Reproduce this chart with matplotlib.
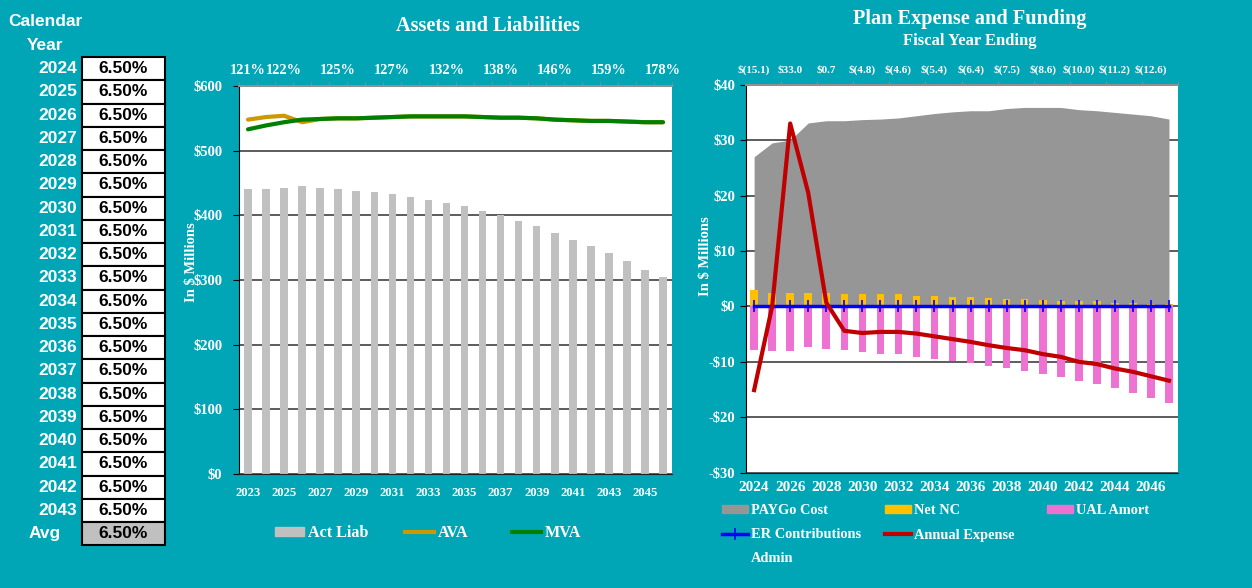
import matplotlib
matplotlib.use("Agg")
import matplotlib.pyplot as plt
from matplotlib.patches import Rectangle, Patch
from matplotlib.lines import Line2D
import numpy as np

# left table: assumed return by calendar year
table_years = [2024, 2025, 2026, 2027, 2028, 2029, 2030, 2031, 2032, 2033,
               2034, 2035, 2036, 2037, 2038, 2039, 2040, 2041, 2042, 2043]
table_rates = [6.50, 6.50, 6.50, 6.50, 6.50, 6.50, 6.50, 6.50, 6.50, 6.50,
               6.50, 6.50, 6.50, 6.50, 6.50, 6.50, 6.50, 6.50, 6.50, 6.50]
avg_rate = 6.50

# middle chart: assets and liabilities ($ millions)
al_years = [2023, 2024, 2025, 2026, 2027, 2028, 2029, 2030, 2031, 2032, 2033, 2034,
            2035, 2036, 2037, 2038, 2039, 2040, 2041, 2042, 2043, 2044, 2045, 2046]
act_liab = [440, 440, 443, 445, 443, 440, 438, 436, 433, 429, 424, 419,
            414, 407, 400, 392, 383, 373, 362, 352, 341, 330, 316, 304]
ava = [548, 552, 554, 544, 549, 550, 550, 551, 552, 553, 553, 553,
       553, 552, 551, 551, 550, 548, 547, 546, 546, 545, 544, 544]
mva = [533, 539, 544, 548, 549, 550, 550, 551, 552, 553, 553, 553,
       553, 552, 551, 551, 550, 548, 547, 546, 546, 545, 544, 544]
funded_years = [2023, 2025, 2028, 2031, 2034, 2037, 2040, 2043, 2046]
funded_pct = [121, 122, 125, 127, 132, 138, 146, 159, 178]

# right chart: plan expense and funding ($ millions)
pe_years = [2024, 2025, 2026, 2027, 2028, 2029, 2030, 2031, 2032, 2033, 2034, 2035,
            2036, 2037, 2038, 2039, 2040, 2041, 2042, 2043, 2044, 2045, 2046, 2047]
paygo = [27.0, 29.5, 30.0, 33.1, 33.5, 33.5, 33.7, 33.8, 34.0, 34.4, 34.8, 35.1,
         35.3, 35.3, 35.7, 35.9, 35.9, 35.9, 35.5, 35.3, 35.0, 34.7, 34.4, 33.8]
net_nc = [2.9, 2.5, 2.5, 2.5, 2.5, 2.3, 2.3, 2.2, 2.2, 1.9, 1.9, 1.7,
          1.7, 1.5, 1.3, 1.3, 1.1, 0.9, 0.9, 0.9, 0.7, 0.7, 0.5, 0.5]
ual_amort = [-7.9, -8.1, -8.1, -7.3, -7.7, -7.9, -8.3, -8.5, -8.6, -9.1, -9.5, -9.8,
             -10.2, -10.7, -11.1, -11.6, -12.2, -12.8, -13.4, -14.0, -14.8, -15.6, -16.5, -17.5]
er_contrib = [0, 0, 0, 0, 0, 0, 0, 0, 0, 0, 0, 0,
              0, 0, 0, 0, 0, 0, 0, 0, 0, 0, 0, 0]
annual_exp = [-15.1, 0.0, 33.0, 20.5, 0.7, -4.4, -4.8, -4.6, -4.6, -4.9, -5.4, -5.9,
              -6.4, -7.0, -7.5, -7.9, -8.6, -9.1, -10.0, -10.4, -11.2, -11.8, -12.6, -13.4]

TEAL = "#00A6B6"
SERIF = "Liberation Serif"
SANS = "Liberation Sans"
W, H = 1252, 588

fig = plt.figure(figsize=(W / 100, H / 100), dpi=100, facecolor=TEAL)

# full-figure axes in pixel units for the table and loose text
bg = fig.add_axes([0, 0, 1, 1])
bg.set_xlim(0, W)
bg.set_ylim(H, 0)
bg.axis("off")

tfont = dict(family=SANS, weight="bold", size=12.5)
bg.text(8, 22, "Calendar", color="white", ha="left", va="center", **tfont)
bg.text(45, 46, "Year", color="white", ha="center", va="center", **tfont)
row_h = 23.25
top = 57
for i, (yr, rate) in enumerate(zip(table_years, table_rates)):
    yc = top + row_h * (i + 0.5)
    bg.add_patch(Rectangle((82, top + row_h * i), 83, row_h, facecolor="white",
                           edgecolor="black", lw=1.5))
    bg.text(77, yc, str(yr), color="white", ha="right", va="center", **tfont)
    bg.text(123.5, yc, f"{rate:.2f}%", color="black", ha="center", va="center", **tfont)
i = len(table_years)
yc = top + row_h * (i + 0.5)
bg.add_patch(Rectangle((82, top + row_h * i), 83, row_h, facecolor="#C0C0C0",
                       edgecolor="black", lw=1.5))
bg.text(45, yc, "Avg", color="white", ha="center", va="center", **tfont)
bg.text(123.5, yc, f"{avg_rate:.2f}%", color="black", ha="center", va="center", **tfont)

# titles
bg.text(488, 26, "Assets and Liabilities", color="white", ha="center", va="center",
        family=SERIF, weight="bold", size=14.6)
bg.text(970, 19, "Plan Expense and Funding", color="white", ha="center", va="center",
        family=SERIF, weight="bold", size=14.6)
bg.text(970, 41, "Fiscal Year Ending", color="white", ha="center", va="center",
        family=SERIF, weight="bold", size=12)
bg.text(192, 262, "In $ Millions", color="white", ha="center", va="center", rotation=90,
        family=SERIF, weight="bold", size=10.5)
bg.text(706, 256, "In $ Millions", color="white", ha="center", va="center", rotation=90,
        family=SERIF, weight="bold", size=10.5)


def style_axes(ax, top_tick_step):
    ax.set_facecolor("white")
    ax.spines["right"].set_visible(False)
    ax.spines["left"].set_color("black")
    ax.spines["bottom"].set_color("#202020")
    ax.spines["top"].set_color("#909090")
    ax.spines["top"].set_linewidth(1.5)
    ax.set_axisbelow(True)
    ax.yaxis.grid(True, color="#303030", lw=1.1)
    ax.xaxis.set_minor_locator(matplotlib.ticker.FixedLocator(np.arange(-0.5, 24, top_tick_step)))
    ax.tick_params(axis="x", which="minor", bottom=False, top=True, direction="out",
                   length=3, color="#909090")
    ax.tick_params(axis="y", which="major", direction="out", length=4, color="black")


def add_key(handle, label, x, y, size):
    # one legend entry placed at pixel position (x = left of key, y = centre)
    fig.legend([handle], [label], loc="center left",
               bbox_to_anchor=(x / W, 1 - y / H), frameon=False,
               handlelength=1.8, handleheight=0.5, handletextpad=0.22,
               borderpad=0, borderaxespad=0,
               prop=dict(family=SERIF, weight="bold", size=size), labelcolor="white")


# middle chart
ax1 = fig.add_axes([239 / W, 1 - 474 / H, 433 / W, 388 / H])
x1 = np.arange(len(al_years))
ax1.bar(x1, act_liab, width=0.42, color="#C0C0C0", zorder=2)
ax1.plot(x1, ava, color="#CC9900", lw=3, zorder=3, solid_capstyle="round")
ax1.plot(x1, mva, color="#008000", lw=3, zorder=4, solid_capstyle="round")
ax1.set_xlim(-0.5, 23.5)
ax1.set_ylim(0, 600)
style_axes(ax1, 1)
ax1.set_yticks(range(0, 601, 100))
ax1.set_yticklabels([f"${v}" for v in range(0, 601, 100)], color="white",
                    family=SERIF, weight="bold", size=10.5)
ax1.tick_params(axis="y", pad=8)
ax1.set_xticks(x1[::2])
ax1.set_xticklabels([str(y) for y in al_years[::2]], color="white",
                    family=SERIF, weight="bold", size=9.2)
ax1.tick_params(axis="x", which="major", length=0, pad=9)
for yr, pct in zip(funded_years, funded_pct):
    ax1.text(al_years.index(yr), 1.041, f"{pct}%", transform=ax1.get_xaxis_transform(),
             ha="center", va="center", color="white", family=SERIF, weight="bold", size=10.4)

add_key(Patch(color="#C0C0C0"), "Act Liab", 275, 533, 11.6)
add_key(Line2D([], [], color="#CC9900", lw=3), "AVA", 405, 533, 11.6)
add_key(Line2D([], [], color="#008000", lw=3), "MVA", 512, 533, 11.6)

# right chart
ax2 = fig.add_axes([746 / W, 1 - 472.7 / H, 432 / W, 388 / H])
x2 = np.arange(len(pe_years))
ax2.fill_between(x2, 0, paygo, color="#969696", lw=0, zorder=1)
ax2.bar(x2, net_nc, width=0.42, color="#FFC000", zorder=2)
ax2.bar(x2, ual_amort, width=0.42, color="#EE72D2", zorder=2)
ax2.plot(x2, er_contrib, color="#0000FF", lw=2.5, marker="|", ms=9, mew=1.2, zorder=3)
ax2.plot(x2, annual_exp, color="#C00000", lw=3, zorder=4)
ax2.set_xlim(-0.45, 23.5)
ax2.set_ylim(-30, 40)
style_axes(ax2, 2)
yt = list(range(-30, 41, 10))
ax2.set_yticks(yt)
ax2.set_yticklabels([f"${v}" if v >= 0 else f"-${-v}" for v in yt], color="white",
                    family=SERIF, weight="bold", size=10.5)
ax2.tick_params(axis="y", pad=4)
ax2.set_xticks(x2[::2])
ax2.set_xticklabels([str(y) for y in pe_years[::2]], color="white",
                    family=SERIF, weight="bold", size=11)
ax2.tick_params(axis="x", which="major", length=0, pad=6)
for i in range(0, len(pe_years), 2):
    v = annual_exp[i]
    lab = f"$({-v:.1f})" if v < 0 else f"${v:.1f}"
    ax2.text(x2[i], 1.038, lab, transform=ax2.get_xaxis_transform(), ha="center",
             va="center", color="white", family=SERIF, weight="bold", size=8)

add_key(Patch(color="#969696"), "PAYGo Cost", 722, 511, 10.4)
add_key(Patch(color="#FFC000"), "Net NC", 885, 511, 10.4)
add_key(Patch(color="#EE72D2"), "UAL Amort", 1047, 511, 10.4)
add_key(Line2D([], [], color="#0000FF", lw=2.5, marker="|", ms=9, mew=1.2),
        "ER Contributions", 722, 535, 10.4)
add_key(Line2D([], [], color="#C00000", lw=3), "Annual Expense", 885, 535, 10.4)
add_key(Line2D([], [], color="none"), "Admin", 722, 559, 10.4)

fig.savefig("out.png", dpi=100, facecolor=TEAL)
